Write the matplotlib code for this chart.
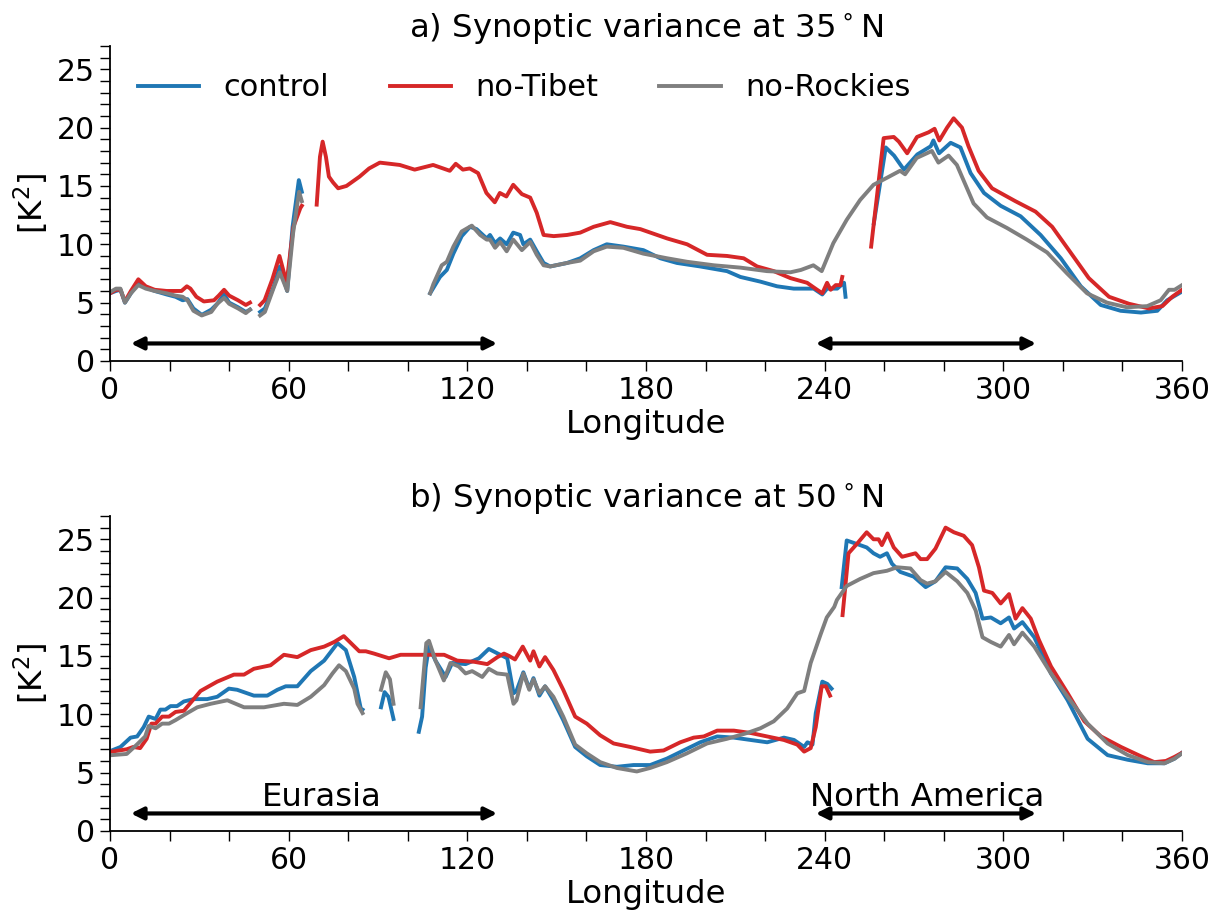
import numpy as np
import matplotlib
matplotlib.use("Agg")
import matplotlib.pyplot as plt
from matplotlib.ticker import MultipleLocator

nan = np.nan

# ---- panel a) 35N ----
a_ctl_lon = [0, 2, 3.5, 5, 7, 9.5, 12, 15, 19, 22, 24.4, 26, 28, 30.8, 34, 36, 38.3, 40, 43, 45.6, 47, 48.5,
             50.4, 52, 55, 57, 59.5, 61.3, 63.4, 64.4, 66,
             107.5, 110.8, 113.1, 115.3, 118.1, 120.9, 123.1, 126.5, 127.6, 129.3, 131, 133.2, 135.4, 137.7,
             138.8, 141.1, 143.3, 145.6, 147.8, 153.5, 157.9, 162.4, 166.8, 172.4, 179.1, 184.8, 190.4, 198.2,
             207.2, 211.7, 218.4, 224, 229.6, 236.3, 239.2, 240.8, 244.2, 246.5, 247, 252,
             256.5, 260.5, 263.3, 266.6, 271.1, 275.6, 276.5, 278.4, 282.3, 285.6, 289, 293.5, 299.1, 305.8,
             312.5, 319.3, 326, 332.7, 339.4, 346.2, 351.7, 355, 357, 360]
a_ctl_val = [5.8, 6.0, 6.1, 5.0, 5.8, 6.7, 6.3, 6.0, 5.7, 5.5, 5.2, 5.3, 4.5, 3.95, 4.4, 4.9, 5.7, 5.0, 4.6, 4.2, 4.4, nan,
             4.2, 4.5, 6.4, 8.1, 6.0, 11.5, 15.5, 14.5, nan,
             5.8, 7.2, 7.8, 9.2, 10.7, 11.5, 11.3, 10.5, 10.8, 10.1, 10.5, 10.0, 11.0, 10.8,
             10.0, 10.4, 9.4, 8.4, 8.1, 8.4, 8.8, 9.5, 10.0, 9.8, 9.5, 8.8, 8.4, 8.1,
             7.7, 7.2, 6.8, 6.4, 6.2, 6.2, 5.7, 6.2, 6.2, 6.7, 5.5, nan,
             11.8, 18.3, 17.6, 16.4, 17.7, 18.4, 18.9, 17.8, 18.7, 18.3, 16.1, 14.4, 13.3, 12.4,
             10.8, 8.8, 6.4, 4.8, 4.3, 4.15, 4.3, 5.2, 5.5, 5.95]

a_tib_lon = [0, 2, 3.5, 5, 7, 9.5, 12, 15, 19, 24, 25.8, 27, 29, 31.5, 34.9, 36.5, 38.3, 40, 43, 45.6, 47, 48.5,
             50.4, 51.9, 54.5, 56.9, 59.3, 61.6, 63.9, 64.4, 67,
             69.4, 70.5, 71.4, 72.5, 73.5, 74.9, 76.6, 79.4, 83.8, 87, 90.6, 97.3, 102.3, 108.5, 114.1, 116.1,
             118.5, 120.8, 123.6, 126.4, 129.2, 130.9, 133.1, 135.4, 138.3, 141.1, 143.3, 145.6, 149, 153.5,
             157.9, 162.4, 168, 173.6, 178.1, 187.1, 193.8, 200.5, 207.2, 212.8, 217.3, 222.9, 228.5, 234.1,
             236.9, 239.2, 240.8, 242, 243.7, 245.3, 245.9, 250,
             255.6, 259.8, 263.2, 264.9, 267.7, 271, 274.9, 276.9, 278.5, 281.1, 283.3, 286.1, 288.3, 291.7,
             296.2, 304, 310.8, 316.4, 322, 328.7, 335.5, 342.2, 348.9, 353.4, 356.7, 360]
a_tib_val = [5.8, 6.1, 6.1, 5.1, 6.0, 7.0, 6.4, 6.1, 6.0, 6.0, 6.4, 6.2, 5.5, 5.1, 5.2, 5.6, 6.1, 5.6, 5.2, 4.8, 5.0, nan,
             4.8, 5.2, 7.0, 9.0, 6.7, 11.5, 13.1, 13.3, nan,
             13.4, 17.5, 18.8, 17.5, 15.8, 15.3, 14.8, 15.0, 15.8, 16.5, 17.0, 16.8, 16.4, 16.8, 16.3, 16.9,
             16.4, 16.5, 16.1, 14.4, 13.6, 14.4, 14.1, 15.1, 14.3, 14.0, 12.7, 10.8, 10.7, 10.8,
             11.0, 11.5, 11.9, 11.5, 11.3, 10.5, 10.0, 9.1, 9.0, 8.8, 8.1, 7.7, 7.1, 6.7,
             6.2, 5.8, 6.7, 6.1, 6.5, 6.5, 7.2, nan,
             9.8, 19.1, 19.2, 18.8, 17.8, 19.2, 19.6, 19.9, 18.9, 20.0, 20.8, 20.0, 18.4, 16.3,
             14.8, 13.7, 12.8, 11.5, 9.5, 7.1, 5.5, 4.9, 4.5, 4.7, 5.5, 6.1]

a_roc_lon = [0, 2, 3.5, 5, 7, 9.5, 12, 15, 19, 22, 24.4, 26, 28, 30.8, 34, 36, 38.3, 40, 43, 45.6, 47, 48.5,
             50.4, 52, 55, 57, 59.5, 61.5, 63.5, 64.4, 66,
             107.5, 108.6, 111.4, 113.1, 115.3, 118.1, 121.5, 124.3, 126.5, 127.6, 129.3, 131, 133.2, 135.4,
             138.3, 141.1, 143.3, 145.6, 147.8, 153.5, 157.9, 162.4, 166.8, 172.4, 179.1, 187.1, 193.8, 202.8,
             211.7, 220.6, 228.5, 232, 236.2, 239, 242.9, 247.4, 251.9, 256.4, 260.9, 265.3, 267, 270.9, 276,
             278.2, 281.6, 284.4, 286.6, 290, 294.5, 301.2, 307.9, 314.7, 321.4, 328.1, 334.8, 341.5, 348.3,
             352.8, 355.6, 357.5, 360]
a_roc_val = [5.9, 6.2, 6.2, 5.0, 5.8, 6.5, 6.2, 6.0, 5.8, 5.6, 5.5, 5.2, 4.3, 3.9, 4.2, 4.9, 5.4, 4.9, 4.5, 4.1, 4.4, nan,
             3.9, 4.2, 6.3, 7.6, 6.0, 11.0, 14.5, 13.7, nan,
             5.8, 6.6, 8.2, 8.5, 9.8, 11.1, 11.6, 10.8, 10.4, 10.4, 9.7, 10.2, 9.4, 10.4,
             9.5, 10.2, 9.1, 8.2, 8.1, 8.4, 8.6, 9.4, 9.8, 9.7, 9.2, 8.8, 8.5, 8.2,
             8.0, 7.7, 7.6, 7.8, 8.2, 7.7, 10.1, 12.1, 13.8, 15.1, 15.7, 16.3, 16.0, 17.4, 18.0,
             17.0, 17.6, 16.8, 15.5, 13.5, 12.3, 11.4, 10.4, 9.3, 7.5, 5.8, 5.0, 4.6, 4.7,
             5.2, 6.1, 6.1, 6.5]

# ---- panel b) 50N ----
b_ctl_lon = [0.6, 3.5, 6.9, 9.1, 11.3, 13, 15.3, 16.9, 18.6, 20.3, 22.5, 24.8, 28.1, 32.6, 36, 39.9, 42.7, 48.3,
             52.8, 56.2, 59, 62.9, 67.4, 71.9, 76.4, 79.2, 82, 84.2, 84.8, 88,
             91, 92.2, 93.5, 95.2, 99,
             103.7, 104.8, 106, 107.1, 109.3, 112.7, 114.9, 119.4, 123.9, 127.2, 129.5, 133.4, 135.5, 136.5,
             138.8, 140.8, 142.2, 144.2, 146.1, 148.9, 152.2, 156.2, 160.1, 164.6, 170.2, 175.8, 181.4, 187,
             192.6, 198.2, 203.9, 209.5, 215.1, 220.7, 226.3, 229.7, 233.1, 234.2, 235.9, 237, 239.2, 240.9,
             242.3, 244,
             245.7, 247.4, 248.5, 251.9, 254.1, 256.4, 258.6, 260.9, 262.6, 265.4, 269.9, 273.9, 277.2, 280.6,
             284.5, 287.9, 290.7, 293, 295.8, 299.1, 301.9, 303.6, 306.4, 310.4, 316, 321.6, 328.3, 335, 341.8,
             348.5, 354.1, 357.5, 360]
b_ctl_val = [6.9, 7.2, 8.0, 8.1, 8.9, 9.8, 9.6, 10.4, 10.4, 10.7, 10.7, 11.1, 11.3, 11.3, 11.5, 12.2, 12.1, 11.6,
             11.6, 12.1, 12.4, 12.4, 13.7, 14.6, 16.1, 15.5, 13.2, 10.5, 10.4, nan,
             10.6, 11.9, 11.5, 9.6, nan,
             8.5, 9.8, 14.0, 15.8, 14.6, 13.2, 14.4, 14.3, 14.8, 15.6, 15.3, 14.8, 11.8, 12.0,
             13.6, 12.2, 13.1, 11.6, 12.4, 11.2, 9.5, 7.2, 6.4, 5.65, 5.5, 5.65, 5.65, 6.2,
             6.9, 7.6, 8.1, 8.0, 7.8, 7.6, 8.0, 7.8, 7.2, 7.6, 7.4, 10.1, 12.8, 12.6,
             12.2, nan,
             20.9, 24.9, 24.8, 24.5, 24.3, 23.8, 23.5, 23.8, 22.9, 22.2, 21.8, 20.9, 21.4, 22.6,
             22.5, 21.6, 20.4, 18.2, 18.3, 17.8, 18.3, 17.35, 17.9, 16.6, 13.5, 11.2, 7.9, 6.5, 6.1,
             5.8, 5.8, 6.2, 6.7]

b_tib_lon = [0.6, 5.6, 7.8, 10.1, 12.3, 13.9, 15.3, 17.5, 19.8, 22, 24.8, 28.1, 30.4, 36, 41.6, 45, 48.3, 53.9,
             58.4, 62.9, 67.4, 71.9, 75.3, 78.5, 80.9, 83.7, 85.9, 88.7, 93.7, 97.6, 103.2, 108.8, 112.2, 116.6,
             122.3, 126.7, 130.1, 132.3, 134, 136, 138.6, 141.1, 142.2, 144.2, 146.1, 148.9, 152.2, 156.2,
             160.1, 164.6, 169.1, 174.7, 181.4, 185.9, 191.5, 196, 199.4, 203.9, 209.5, 215.1, 220.7, 226.3,
             230.8, 233.1, 235.3, 237, 239, 240.4, 241.8, 244,
             246, 248, 250.8, 254.1, 256.4, 258.1, 259.2, 261.1, 263.2, 266, 270.5, 272.2, 274.4, 277.2, 280.6,
             283.4, 286.7, 289.5, 291.8, 293.5, 296.3, 299.1, 301.9, 304.1, 306.4, 309.2, 311.9, 316, 321.6,
             327.2, 332.8, 339.5, 346.2, 350.7, 354.6, 357.5, 360]
b_tib_val = [6.8, 7.0, 7.2, 7.1, 7.9, 9.2, 9.2, 9.8, 9.8, 10.2, 10.3, 11.3, 12.0, 12.8, 13.4, 13.4, 13.9, 14.2,
             15.1, 14.9, 15.5, 15.8, 16.2, 16.7, 16.1, 15.4, 15.4, 15.2, 14.8, 15.1, 15.1, 15.1, 15.1, 14.6,
             14.5, 14.3, 14.9, 15.2, 15.0, 14.7, 15.8, 14.6, 15.4, 14.1, 14.9, 13.8, 12.1, 9.8,
             9.2, 8.2, 7.5, 7.2, 6.8, 6.9, 7.6, 8.0, 8.1, 8.6, 8.6, 8.4, 8.1, 7.8,
             7.4, 6.8, 7.1, 8.9, 12.4, 12.4, 11.6, nan,
             18.5, 23.8, 24.6, 25.6, 25.0, 25.0, 24.5, 25.5, 24.3, 23.5, 23.8, 23.3, 23.3, 24.2, 26.0,
             25.6, 25.3, 24.5, 22.6, 20.6, 20.4, 19.5, 20.3, 18.2, 19.1, 18.2, 16.4, 14.1, 11.8,
             9.4, 8.1, 7.2, 6.4, 5.9, 6.0, 6.35, 6.7]

b_roc_lon = [0.6, 5.6, 9, 11.8, 13, 15.3, 17.5, 19.8, 22, 25.9, 29.3, 33.8, 39.4, 45, 51.7, 58.4, 62.9, 67.4,
             71.9, 74.7, 76.9, 79.2, 82, 83.1, 84.8, 88,
             91, 92.6, 94, 95.2, 99,
             104.3, 106.2, 107.1, 109.3, 112.1, 114.3, 117.1, 119.4, 121.6, 125, 127.2, 130, 133.4, 135.5,
             136.5, 138.8, 140.8, 142.2, 144.2, 146.1, 148.9, 152.2, 156.2, 160.1, 164.6, 170.2, 176.9, 181.4,
             187, 193.7, 200.5, 207.2, 214, 218.4, 222.9, 227.4, 230.8, 233.1, 235.3, 238.7, 240.7, 243.2,
             244.1, 247.4, 251.9, 256.4, 260.9, 264.3, 268.8, 272.2, 274.4, 277.2, 280.6, 284.5, 287.9, 290.7,
             293, 295.8, 299.1, 301.9, 303.6, 306.4, 310.4, 316, 321.6, 328.3, 335, 341.8, 348.5, 354.1, 357.5,
             360]
b_roc_val = [6.5, 6.6, 7.4, 8.1, 9.0, 8.8, 9.2, 9.2, 9.5, 10.1, 10.6, 10.9, 11.2, 10.6, 10.6, 10.9, 10.8, 11.5,
             12.5, 13.5, 14.2, 13.7, 12.2, 10.9, 10.1, nan,
             12.1, 13.6, 13.0, 10.9, nan,
             10.6, 16.1, 16.3, 14.6, 12.9, 14.4, 14.1, 13.5, 13.7, 13.2, 13.9, 13.5, 13.4, 10.9,
             11.2, 13.5, 12.1, 13.0, 11.8, 12.4, 11.5, 9.8, 7.4, 6.65, 5.9, 5.4, 5.1, 5.4,
             5.9, 6.65, 7.5, 7.9, 8.4, 8.8, 9.4, 10.5, 11.8, 12.0, 14.4, 16.9, 18.3, 19.2,
             19.8, 21.0, 21.6, 22.1, 22.3, 22.6, 22.5, 21.5, 21.2, 21.4, 22.2, 21.4, 20.4, 18.9,
             16.6, 16.2, 15.8, 16.8, 16.0, 17.0, 15.8, 13.5, 11.5, 9.2, 7.5, 6.5, 5.9, 5.8, 6.2,
             6.65]

titles = ["a) Synoptic variance at 35$^\\circ$N", "b) Synoptic variance at 50$^\\circ$N"]
labels = ["control", "no-Tibet", "no-Rockies"]
colors = ["tab:blue", "tab:red", "tab:gray"]
# name, arrow start, arrow end, label centre
regions = [("Eurasia", 7, 130, 71), ("North America", 237, 311, 274.5)]

TICK_FS = 21.5
LEG_FS = 22
FS = 23.3
plt.rcParams["font.size"] = FS

fig, axes = plt.subplots(2, 1, figsize=(12.24, 9.19), dpi=100)
fig.subplots_adjust(left=0.0899, right=0.9657, top=0.95, bottom=0.0958, hspace=0.492)

panels = [
    [(a_ctl_lon, a_ctl_val), (a_tib_lon, a_tib_val), (a_roc_lon, a_roc_val)],
    [(b_ctl_lon, b_ctl_val), (b_tib_lon, b_tib_val), (b_roc_lon, b_roc_val)],
]

for i, ax in enumerate(axes):
    for (lon, val), lab, col in zip(panels[i], labels, colors):
        ax.plot(lon, val, color=col, lw=2.8, label=lab)

    # region arrows
    for name, x0, x1, xc in regions:
        ax.annotate("", xy=(x0, 1.5), xytext=(x1, 1.5),
                    arrowprops=dict(arrowstyle="<|-|>", color="k", lw=3, mutation_scale=18,
                                    shrinkA=0, shrinkB=0))
        if i == 1:
            ax.text(xc, 2.1, name, ha="center", va="baseline", fontsize=FS)

    ax.set_xlim(0, 360)
    ax.set_ylim(0, 27)
    ax.xaxis.set_major_locator(MultipleLocator(60))
    ax.xaxis.set_minor_locator(MultipleLocator(20))
    ax.yaxis.set_major_locator(MultipleLocator(5))
    ax.yaxis.set_minor_locator(MultipleLocator(1))
    ax.tick_params(which="both", length=7.5, width=1.0, labelsize=TICK_FS)
    ax.spines["top"].set_visible(False)
    ax.spines["right"].set_visible(False)
    ax.spines["left"].set_linewidth(1.3)
    ax.spines["bottom"].set_linewidth(1.3)
    ax.set_xlabel("Longitude", fontsize=FS, labelpad=3)
    ax.set_ylabel("[K$^2$]", fontsize=FS)
    ax.set_title(titles[i], fontsize=FS)

axes[0].legend(loc="upper left", ncol=3, frameon=False, fontsize=LEG_FS, handlelength=2.0)

fig.savefig("out.png", dpi=100)
